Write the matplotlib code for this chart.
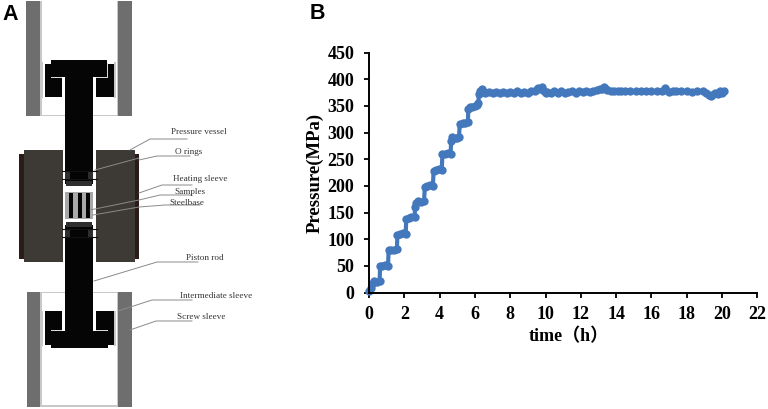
import matplotlib
matplotlib.use('Agg')
import matplotlib.pyplot as plt
from matplotlib.patches import Rectangle

# pressure curve
time_h = [0.02, 0.1, 0.2, 0.3, 0.45, 0.6,
          0.63, 0.75, 0.9, 1.08,
          1.11, 1.25, 1.4, 1.58,
          1.61, 1.75, 1.9, 2.08,
          2.11, 2.25, 2.4, 2.58,
          2.61, 2.65, 2.8, 2.95, 3.12,
          3.16, 3.3, 3.45, 3.62,
          3.66, 3.8, 3.95, 4.12,
          4.16, 4.3, 4.45, 4.62,
          4.66, 4.7, 4.85, 5.0, 5.1,
          5.14, 5.3, 5.45, 5.6,
          5.63, 5.7, 5.85, 6.0, 6.12, 6.2,
          6.22, 6.3, 6.4, 6.5, 6.6,
          6.8, 7.0, 7.2, 7.4, 7.6, 7.8, 8.0, 8.2, 8.4, 8.6, 8.8, 9.0, 9.2, 9.4, 9.5, 9.6, 9.7,
          9.8, 9.9, 10.0, 10.1, 10.3, 10.5, 10.7, 10.9, 11.1, 11.3, 11.5, 11.7, 11.9, 12.1,
          12.3, 12.5, 12.7, 12.9, 13.1, 13.2, 13.3, 13.4, 13.5, 13.7, 13.9, 14.1, 14.3, 14.5,
          14.8, 15.1, 15.4, 15.7, 16.0, 16.3, 16.6, 16.75, 16.85, 17.0, 17.2, 17.4, 17.7, 18.0,
          18.3, 18.6, 18.9, 19.1, 19.25, 19.35, 19.45, 19.6, 19.75, 19.9, 20.0, 20.1]
pressure_mpa = [3, 8, 18, 21, 20, 21,
                49, 50, 51, 50,
                79, 80, 79, 81,
                108, 110, 111, 110,
                138, 140, 141, 141,
                160, 168, 171, 170, 171,
                197, 199, 201, 200,
                228, 230, 231, 229,
                259, 260, 261, 260,
                285, 292, 290, 289, 291,
                316, 317, 318, 319,
                345, 347, 348, 349, 352, 355,
                372, 378, 381, 376, 375,
                376, 375, 376, 375, 376, 375, 376, 375, 377, 375, 376, 375, 377, 378, 381, 383, 382,
                385, 378, 375, 376, 375, 377, 375, 377, 375, 376, 377, 375, 377, 376,
                377, 376, 378, 379, 381, 382, 385, 382, 379, 378, 377, 378, 377, 378,
                378, 377, 378, 377, 378, 377, 378, 383, 380, 376, 378, 377, 378, 377,
                376, 378, 377, 375, 371, 368, 371, 375, 373, 378, 374, 378]
x_ticks = list(range(0, 23, 2))
y_ticks = list(range(0, 451, 50))

# schematic of panel A: (x, y, w, h) in image pixels
gray_parts = [(26, 1, 14, 115), (118, 1, 14, 115), (26.5, 292, 13.5, 115), (118, 292, 14, 115)]
strip_parts = [(40, 1, 2, 115), (116.5, 1, 1.5, 115), (40, 292, 2, 115), (116.5, 292, 1.5, 115),
               (42, 115, 75, 1), (42, 292, 75, 1), (40, 405, 78, 2), (41, 62, 2, 36), (114, 62, 2, 36),
               (41, 311, 2, 35), (114, 311, 2, 35)]
black_parts = [(45, 64, 17, 33), (96, 64, 18, 33), (51, 60, 56, 17), (65, 77, 28, 107),
               (45, 311, 17, 34), (96, 311, 18, 34), (51, 331, 57, 17), (65, 225, 28, 106),
               (69, 193, 4, 25), (78, 193, 4, 25), (86, 193, 4, 25)]
head_outline_parts = [(50.5, 63, 0.8, 15), (107, 63, 0.8, 15), (51, 77, 11, 0.9), (96, 77, 11, 0.9),
                      (50.5, 331, 0.8, 15), (107.5, 331, 0.8, 15), (51, 330, 11, 0.9), (96, 330, 11.5, 0.9)]
vessel_parts = [(23.5, 150, 39.5, 112), (96, 150, 39, 112)]
vessel_edge_parts = [(19, 154, 5, 105), (135, 154, 4, 105)]
sample_parts = [(65, 192, 28, 27)]
seal_parts = [(65, 172, 5, 8), (88, 172, 5, 8), (65, 230, 5, 8), (88, 230, 5, 8), (66, 181, 26, 5), (66, 222, 26, 5)]
seal_lines = [((62, 97), (171, 171)), ((62, 97), (179, 179)), ((62, 97), (229, 229)), ((62, 97), (237, 237))]
leaders = [([130, 150, 187], [150, 139, 139]),
           ([139, 157, 190], [160, 156, 156]),
           ([95, 139], [170, 158]),
           ([139, 162, 192], [193, 185, 185]),
           ([90, 139, 160, 192], [210, 200, 195, 195]),
           ([93, 139, 165, 200], [215, 207, 205, 205]),
           ([94, 157, 198], [281, 262, 262]),
           ([118, 152, 192], [311, 300, 300]),
           ([130, 156, 192], [330, 321, 321])]
part_labels = ['Pressure vessel', 'O rings', 'Heating sleeve', 'Samples', 'Steelbase',
               'Piston rod', 'Intermediate sleeve', 'Screw sleeve']
part_label_x = [199, 188.5, 200, 190, 186.5, 205, 216.5, 201.5]
part_label_y = [132, 152, 179, 191.5, 203, 258, 295.5, 317]

W, H = 768, 409
fig = plt.figure(figsize=(W / 100, H / 100), dpi=100)

# panel A in pixel coordinates
ax_a = fig.add_axes([0, 0, 1, 1])
ax_a.set_xlim(0, W)
ax_a.set_ylim(H, 0)
ax_a.axis('off')


def draw_parts(parts, color):
    for x, y, w, h in parts:
        ax_a.add_patch(Rectangle((x, y), w, h, facecolor=color, edgecolor='none'))


draw_parts(gray_parts, '#6e6e6e')
draw_parts(strip_parts, '#c8c8c8')
draw_parts(vessel_edge_parts, '#2b1c1a')
draw_parts(vessel_parts, '#3d3935')
draw_parts(sample_parts, '#a8a8a8')
draw_parts(black_parts, '#050505')
draw_parts(head_outline_parts, '#d8d8d8')
draw_parts(seal_parts, '#2e2e2e')
for xs, ys in seal_lines:
    ax_a.plot(xs, ys, color='#111111', lw=0.8)
for xs, ys in leaders:
    ax_a.plot(xs, ys, color='#8a8a8a', lw=0.7)
for name, x, y in zip(part_labels, part_label_x, part_label_y):
    ax_a.text(x, y, name, family='Liberation Serif', fontsize=6.6, color='#333333',
              ha='center', va='center')

ax_a.text(2, 20, 'A', family='Liberation Sans', fontweight='bold', fontsize=15.5, va='baseline')
ax_a.text(310, 19, 'B', family='Liberation Sans', fontweight='bold', fontsize=15.5, va='baseline')

# panel B
ax = fig.add_axes([369 / W, (H - 292.5) / H, 388.3 / W, 240 / H])
ax.patch.set_alpha(0)
ax.plot(time_h, pressure_mpa, color='#4478bd', lw=3.0, marker='o', ms=6.0, mew=0, clip_on=False)
ax.set_xlim(0, 22)
ax.set_ylim(0, 450)
ax.set_xticks(x_ticks)
ax.set_yticks(y_ticks)
ax.spines['top'].set_visible(False)
ax.spines['right'].set_visible(False)
ax.spines['left'].set_linewidth(1.4)
ax.spines['bottom'].set_linewidth(1.4)
ax.tick_params(axis='x', direction='out', length=3.5, width=1.3, pad=6)
ax.tick_params(axis='y', direction='out', length=3.5, width=1.3, pad=7)
for t in ax.get_xticklabels() + ax.get_yticklabels():
    t.set_family('Liberation Serif')
    t.set_fontweight('bold')
    t.set_fontsize(13)
ax.set_ylabel('Pressure(MPa)', family='Liberation Serif', fontweight='bold', fontsize=13.5, labelpad=3)
ax.set_xlabel('time（h）', family=['Liberation Serif', 'Noto Sans CJK SC'], fontweight='bold',
              fontsize=13, labelpad=4)
ax.xaxis.label.set_x(0.515)

fig.savefig('out.png', dpi=100)
